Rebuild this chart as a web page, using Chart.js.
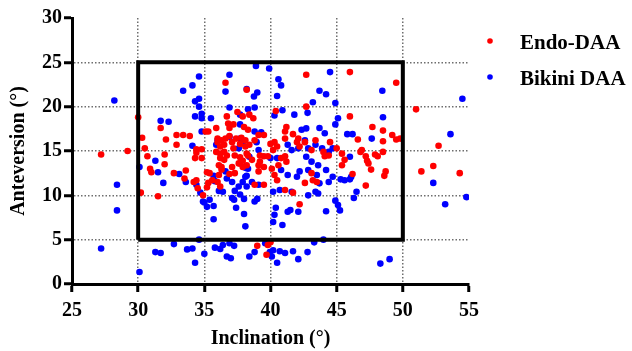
<!DOCTYPE html>
<html>
<head>
<meta charset="utf-8">
<script src="https://cdn.jsdelivr.net/npm/chart.js@4.4.0/dist/chart.umd.min.js"></script>
<style>
    html, body { margin: 0; padding: 0; background: #fff; }
</style>
</head>
<body>
<canvas id="scatterChart" width="632" height="351"></canvas>
<script>
    // Endo-DAA cups: [inclination, anteversion]
    const endoPoints = [
        [27.2, 14.6], [29.2, 15.0], [30.0, 18.8],
        [31.7, 17.6], [32.9, 16.8], [33.4, 16.8], [33.9, 16.7], [32.1, 16.3], [30.3, 16.5], [32.9, 15.7], [35.1, 17.2],
        [34.4, 15.2], [30.5, 15.3], [34.8, 15.2], [34.4, 14.8], [30.7, 14.4], [32.0, 14.6], [32.0, 13.5], [30.9, 13.0],
        [31.0, 12.6], [32.7, 12.5], [33.6, 12.8], [33.5, 11.9], [34.2, 11.5], [34.4, 11.7], [34.3, 14.2], [34.8, 14.2],
        [30.2, 10.3], [31.5, 9.9], [34.9, 10.0], [34.5, 10.8],
        [35.2, 12.6], [35.4, 12.5], [35.6, 11.7], [35.3, 11.4], [35.2, 10.9], [36.0, 11.5], [36.2, 11.0], [36.1, 12.3],
        [36.3, 13.2], [36.9, 12.4], [37.3, 12.5], [37.1, 13.2], [37.7, 13.6], [37.9, 13.2], [38.2, 21.9], [37.5, 19.4],
        [36.7, 18.9], [35.9, 17.6], [36.9, 17.6], [37.9, 18.9],
        [36.0, 16.4], [36.0, 16.0], [36.3, 16.2], [36.6, 16.4], [36.9, 16.7], [37.4, 16.4], [37.8, 16.5], [38.1, 16.2],
        [36.2, 15.5], [36.5, 15.7], [37.1, 16.0], [37.2, 15.3], [37.7, 15.8], [38.1, 15.5], [35.9, 14.9], [36.2, 14.7],
        [36.5, 14.9], [36.7, 14.5], [36.2, 14.2], [36.5, 14.0], [37.3, 14.5], [37.7, 14.3], [38.2, 14.7], [37.9, 13.9],
        [37.6, 13.6], [36.1, 13.4], [36.3, 12.9],
        [36.6, 22.7], [42.7, 23.6], [42.7, 20.0], [40.4, 19.5], [36.8, 18.1], [37.2, 18.0], [38.0, 17.7], [35.3, 17.2],
        [41.2, 17.7], [41.1, 17.2], [41.7, 16.9], [42.1, 16.4], [40.0, 15.8], [40.3, 16.0], [44.5, 16.0], [43.4, 16.2],
        [42.6, 16.0],
        [38.4, 19.1], [38.7, 18.7], [41.1, 16.4], [38.3, 17.4], [39.1, 16.8], [39.5, 16.8], [38.8, 16.2], [38.4, 15.7],
        [40.5, 15.5], [40.2, 15.1], [42.0, 16.0], [42.2, 15.5], [43.1, 15.1],
        [41.1, 14.4], [40.8, 14.2], [41.2, 13.8], [40.6, 13.4], [39.2, 14.5], [39.5, 14.4], [39.8, 14.4], [38.3, 14.5],
        [38.6, 14.0], [39.1, 13.4], [39.2, 13.8], [39.5, 13.2], [39.1, 12.7], [38.2, 13.4], [40.1, 13.0], [40.3, 12.3],
        [40.5, 11.7], [44.0, 14.9], [44.1, 14.4], [44.4, 14.5], [45.4, 14.7], [45.6, 14.0], [45.4, 13.4], [43.1, 12.5],
        [43.2, 11.7], [43.5, 11.5], [42.6, 11.4], [38.8, 11.2], [39.5, 11.2], [41.1, 10.6], [41.7, 10.3],
        [45.0, 15.3], [46.0, 18.9], [47.7, 17.7], [48.5, 17.3], [49.2, 16.8], [49.5, 16.3], [49.8, 16.4], [46.6, 16.3],
        [48.5, 16.1], [46.9, 15.1], [46.8, 14.9], [48.5, 14.9], [47.2, 14.4], [47.3, 13.9], [47.4, 13.6], [47.9, 14.6],
        [48.1, 14.4], [47.6, 12.9], [48.7, 12.7], [48.6, 12.2], [46.2, 12.4], [47.2, 11.1], [51.0, 19.7], [52.7, 15.6],
        [52.3, 13.3], [51.4, 12.7], [54.3, 12.5],
        [46.0, 23.9], [49.5, 22.7],
        [42.2, 9.0], [39.0, 4.3], [39.7, 3.3], [39.8, 4.4], [40.0, 4.7]
    ];

    // Bikini DAA cups: [inclination, anteversion]
    const bikiniPoints = [
        [28.2, 20.7], [28.4, 11.2], [28.4, 8.3], [27.2, 4.0], [30.1, 1.35],
        [34.6, 23.4], [34.1, 22.4], [33.4, 21.8], [34.6, 20.9], [34.3, 20.6], [34.6, 20.0], [34.8, 19.2], [34.3, 18.9],
        [34.8, 18.7], [31.7, 18.4], [32.3, 18.3], [34.8, 17.2], [34.1, 15.6],
        [31.3, 13.9], [30.1, 13.2], [31.5, 12.6], [33.1, 12.4], [33.6, 11.5], [34.4, 11.2], [31.9, 11.4], [34.7, 10.3],
        [35.0, 9.2], [32.7, 4.5], [31.3, 3.6], [31.7, 3.5], [33.7, 3.9], [34.1, 4.0], [34.3, 2.4], [35.0, 3.4], [34.6, 5.0],
        [36.6, 21.7], [36.9, 19.9], [37.7, 19.1], [35.5, 18.7], [37.7, 18.0], [35.7, 12.2], [35.8, 11.6], [36.1, 10.5],
        [36.6, 12.7], [36.7, 11.9], [37.1, 11.5], [37.6, 11.0], [37.9, 11.5], [37.3, 10.5], [37.7, 10.1], [38.0, 9.6],
        [38.2, 11.0], [38.2, 12.2], [36.4, 10.4], [38.1, 13.1], [34.9, 9.3], [35.4, 9.5], [35.2, 8.7], [36.9, 16.6],
        [37.6, 15.3], [37.9, 16.0],
        [38.2, 22.0], [39.0, 21.6], [38.75, 21.15], [43.2, 20.5], [43.7, 21.8], [44.2, 21.4], [45.1, 18.7], [44.9, 18.0],
        [45.8, 16.9], [44.1, 17.0], [42.6, 16.2], [43.4, 15.7], [42.1, 15.3], [42.85, 15.3], [43.9, 15.3], [44.4, 14.9],
        [44.7, 15.3], [39.1, 15.1], [38.4, 14.35], [40.0, 14.2], [40.5, 14.2], [41.3, 15.7], [41.6, 15.1], [42.7, 14.35],
        [43.1, 13.8], [43.6, 13.4], [38.3, 13.0], [38.1, 12.1], [38.6, 11.5], [39.1, 11.2], [40.8, 12.85], [41.3, 12.3],
        [42.0, 12.1], [42.2, 12.7], [42.85, 12.85], [43.5, 12.3], [44.2, 12.85], [44.7, 12.1], [43.7, 11.35], [44.4, 11.5],
        [45.6, 11.7], [46.1, 12.1], [40.2, 10.4], [40.7, 10.6], [41.6, 10.4], [42.85, 10.0], [43.4, 10.4], [43.6, 10.2],
        [42.1, 8.15],
        [38.9, 24.6], [39.9, 24.3], [36.9, 23.6], [40.6, 23.1], [40.8, 22.4], [40.5, 21.2], [44.5, 23.9], [38.8, 19.9],
        [38.3, 19.7], [40.9, 19.6], [40.3, 19.0], [41.8, 19.1], [42.8, 19.3], [42.35, 17.4], [42.7, 17.55], [43.7, 17.6],
        [38.8, 17.2], [39.3, 17.1], [36.0, 16.2], [35.9, 15.7], [37.7, 16.4], [38.95, 16.0], [44.9, 20.4],
        [48.45, 21.8], [48.5, 18.8], [46.2, 16.9], [47.65, 16.4], [46.0, 14.35], [46.5, 10.4], [46.3, 9.7], [53.6, 16.9],
        [52.3, 11.4], [53.2, 9.0], [54.5, 20.9],
        [54.8, 9.8], [48.3, 2.3], [49.0, 2.8], [45.1, 8.9], [45.25, 8.3], [45.3, 11.8], [46.0, 11.8],
        [35.7, 7.3], [37.4, 8.6], [38.0, 7.9], [38.1, 6.5], [35.7, 8.8], [37.1, 9.7], [37.25, 9.5], [38.8, 9.3],
        [39.0, 9.6], [40.4, 8.6], [40.3, 7.8], [40.2, 7.0], [40.9, 6.65], [41.3, 8.15], [41.5, 8.35], [44.2, 8.2], [44.9, 9.4],
        [35.8, 4.1], [36.2, 3.95], [36.4, 4.4], [36.9, 4.6], [37.25, 4.3], [36.7, 3.1], [37.0, 2.9], [38.4, 3.1],
        [38.8, 3.6], [39.95, 3.6], [40.1, 3.1], [40.2, 3.8], [40.5, 2.4], [40.7, 3.7], [41.1, 3.5], [41.7, 3.7],
        [42.1, 2.8], [42.8, 3.6], [43.3, 4.7], [44.0, 5.0], [39.6, 4.6]
    ];

    // safe zone corners (inclination 30-50, anteversion 5-25)
    const safeZone = [[30, 5], [50, 5], [50, 25], [30, 25], [30, 5]];

    const seriesNames = ['Endo-DAA', 'Bikini DAA'];
    const seriesColors = ['#ff0000', '#0000ff'];
    const xRange = [25, 55];
    const yRange = [0, 30];
    const axisTitles = ['Inclination (\u00b0)', 'Anteversion (\u00b0)'];

    function toXY(list) {
        return list.map(p => ({ x: p[0], y: p[1] }));
    }

    const serif = '"Liberation Serif", "Times New Roman", serif';

    // legend drawn at the right, like the original figure
    const sideLegend = {
        id: 'sideLegend',
        afterDraw: function (chart) {
            const ctx = chart.ctx;
            ctx.save();
            ctx.font = 'bold 21px ' + serif;
            ctx.textBaseline = 'alphabetic';
            const rowY = [41, 77];
            seriesNames.forEach(function (name, i) {
                ctx.fillStyle = seriesColors[i];
                ctx.beginPath();
                ctx.arc(490, rowY[i], 2.8, 0, Math.PI * 2);
                ctx.fill();
                ctx.fillStyle = '#000';
                ctx.fillText(name, 520, rowY[i] + 8);
            });
            ctx.restore();
        }
    };

    function gridColor(lo, hi) {
        return function (c) {
            if (c.tick && c.tick.value > lo && c.tick.value < hi) return '#6e6e6e';
            return 'rgba(0,0,0,0)';
        };
    }

    const ctx = document.getElementById('scatterChart').getContext('2d');
    new Chart(ctx, {
        type: 'scatter',
        data: {
            datasets: [
                {
                    label: 'safe zone',
                    data: toXY(safeZone),
                    showLine: true,
                    borderColor: '#000',
                    borderWidth: 4,
                    pointRadius: 0,
                    fill: false,
                    order: 0
                },
                {
                    label: seriesNames[0],
                    data: toXY(endoPoints),
                    backgroundColor: seriesColors[0],
                    borderWidth: 0,
                    pointRadius: 3.3,
                    order: 1
                },
                {
                    label: seriesNames[1],
                    data: toXY(bikiniPoints),
                    backgroundColor: seriesColors[1],
                    borderWidth: 0,
                    pointRadius: 3.3,
                    order: 2
                }
            ]
        },
        options: {
            responsive: false,
            animation: false,
            events: [],
            layout: {
                padding: { top: 18, right: 163, left: 0, bottom: 0 }
            },
            plugins: {
                legend: { display: false },
                tooltip: { enabled: false }
            },
            scales: {
                x: {
                    type: 'linear',
                    min: xRange[0],
                    max: xRange[1],
                    afterFit: function (scale) { scale.height = 67; },
                    ticks: {
                        stepSize: 5,
                        padding: 7,
                        color: '#000',
                        font: { family: serif, size: 20, weight: 'bold' }
                    },
                    grid: {
                        color: gridColor(xRange[0], xRange[1]),
                        lineWidth: 1.5,
                        tickColor: '#000',
                        tickWidth: 3,
                        tickLength: 8
                    },
                    border: { display: true, color: '#000', width: 3, dash: [1.5, 2] },
                    title: {
                        display: true,
                        text: axisTitles[0],
                        color: '#000',
                        padding: { top: 0, bottom: 0 },
                        font: { family: serif, size: 20, weight: 'bold' }
                    }
                },
                y: {
                    type: 'linear',
                    min: yRange[0],
                    max: yRange[1],
                    afterFit: function (scale) { scale.width = 72; },
                    ticks: {
                        stepSize: 5,
                        padding: 2,
                        color: '#000',
                        font: { family: serif, size: 20, weight: 'bold' }
                    },
                    grid: {
                        color: gridColor(yRange[0], yRange[1]),
                        lineWidth: 1.5,
                        tickColor: '#000',
                        tickWidth: 3,
                        tickLength: 8
                    },
                    border: { display: true, color: '#000', width: 3, dash: [1.5, 2] },
                    title: {
                        display: true,
                        text: axisTitles[1],
                        color: '#000',
                        padding: { top: 7, bottom: 0 },
                        font: { family: serif, size: 20, weight: 'bold' }
                    }
                }
            }
        },
        plugins: [sideLegend]
    });
</script>
</body>
</html>
